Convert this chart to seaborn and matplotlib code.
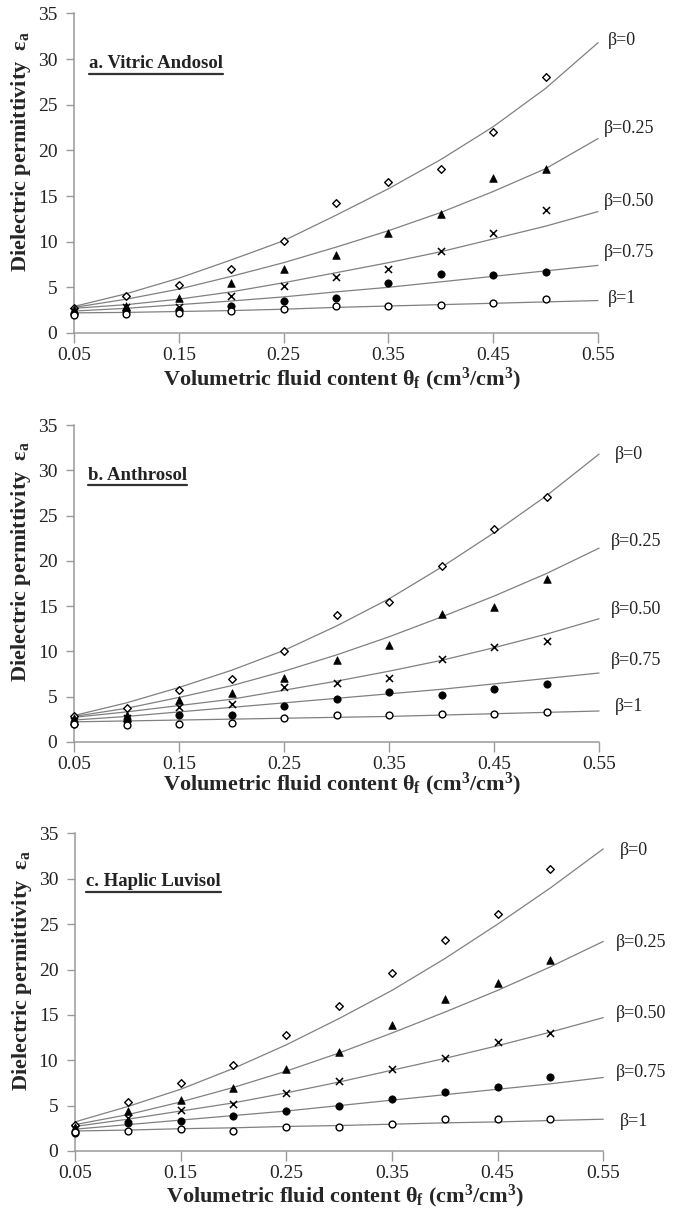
import numpy as np
import pandas as pd
import matplotlib
matplotlib.use("Agg")
import matplotlib.pyplot as plt
import seaborn as sns
from matplotlib.lines import Line2D

# measured points (theta = 0.05 ... 0.50)
theta_pts = [0.05, 0.10, 0.15, 0.20, 0.25, 0.30, 0.35, 0.40, 0.45, 0.50]
# fitted curves read at theta = 0.05 ... 0.55
theta_fit = [0.05, 0.10, 0.15, 0.20, 0.25, 0.30, 0.35, 0.40, 0.45, 0.50, 0.55]

beta_names = ["β=0", "β=0.25", "β=0.50", "β=0.75", "β=1"]

# a. Vitric Andosol
a_b0 = [2.7, 4.0, 5.2, 7.0, 10.1, 14.2, 16.5, 18.0, 22.0, 28.0]
a_b25 = [2.6, 3.0, 3.8, 5.5, 7.0, 8.5, 11.0, 13.0, 17.0, 18.0]
a_b50 = [2.4, 2.8, 2.8, 4.0, 5.1, 6.1, 7.0, 9.0, 11.0, 13.5]
a_b75 = [2.1, 2.4, 2.5, 3.0, 3.5, 3.8, 5.5, 6.5, 6.3, 6.7]
a_b1 = [2.0, 2.1, 2.2, 2.4, 2.6, 3.0, 3.0, 3.1, 3.3, 3.7]
a_fit0 = [2.9, 4.3, 6.0, 8.0, 10.1, 12.9, 15.8, 19.0, 22.6, 26.8, 31.8]
a_fit25 = [2.8, 3.7, 4.8, 6.2, 7.7, 9.4, 11.2, 13.2, 15.5, 18.0, 21.3]
a_fit50 = [2.7, 3.1, 3.7, 4.5, 5.5, 6.6, 7.7, 8.9, 10.3, 11.7, 13.3]
a_fit75 = [2.4, 2.7, 3.1, 3.5, 3.95, 4.5, 5.0, 5.6, 6.2, 6.8, 7.4]
a_fit1 = [2.2, 2.25, 2.35, 2.45, 2.6, 2.8, 2.95, 3.1, 3.25, 3.4, 3.55]

# b. Anthrosol
b_b0 = [2.9, 3.7, 5.7, 6.9, 10.0, 14.0, 15.5, 19.4, 23.5, 27.0]
b_b25 = [2.6, 2.95, 4.6, 5.4, 7.1, 9.0, 10.7, 14.1, 14.9, 18.0]
b_b50 = [2.3, 2.6, 3.8, 4.2, 6.0, 6.5, 7.0, 9.2, 10.5, 11.1]
b_b75 = [2.0, 2.3, 2.95, 2.95, 4.0, 4.7, 5.5, 5.2, 5.8, 6.4]
b_b1 = [2.0, 1.8, 2.0, 2.1, 2.6, 2.95, 3.0, 3.05, 3.1, 3.3]
b_fit0 = [2.9, 4.3, 6.0, 7.9, 10.1, 12.8, 15.8, 19.3, 23.1, 27.2, 31.8]
b_fit25 = [2.8, 3.7, 4.9, 6.2, 7.8, 9.6, 11.6, 13.8, 16.1, 18.6, 21.4]
b_fit50 = [2.7, 3.3, 4.0, 4.7, 5.7, 6.7, 7.8, 9.0, 10.4, 11.9, 13.6]
b_fit75 = [2.4, 2.8, 3.3, 3.8, 4.3, 4.8, 5.3, 5.8, 6.4, 7.0, 7.6]
b_fit1 = [2.2, 2.3, 2.4, 2.5, 2.6, 2.7, 2.8, 2.95, 3.1, 3.25, 3.4]

# c. Haplic Luvisol
c_b0 = [2.9, 5.4, 7.5, 9.5, 12.75, 15.95, 19.6, 23.3, 26.1, 31.1]
c_b25 = [2.6, 4.35, 5.6, 6.9, 9.0, 10.9, 13.85, 16.7, 18.5, 21.0]
c_b50 = [2.4, 3.6, 4.5, 5.2, 6.4, 7.7, 9.0, 10.3, 12.0, 13.0]
c_b75 = [2.0, 3.05, 3.35, 3.8, 4.35, 5.0, 5.75, 6.5, 7.0, 8.2]
c_b1 = [2.1, 2.15, 2.4, 2.2, 2.6, 2.6, 2.95, 3.5, 3.55, 3.55]
c_fit0 = [3.2, 4.9, 6.8, 9.1, 11.7, 14.6, 17.7, 21.2, 25.0, 29.0, 33.3]
c_fit25 = [2.9, 4.0, 5.4, 7.0, 8.8, 10.8, 13.0, 15.3, 17.7, 20.3, 23.1]
c_fit50 = [2.7, 3.5, 4.4, 5.3, 6.4, 7.6, 8.9, 10.2, 11.6, 13.1, 14.7]
c_fit75 = [2.4, 2.9, 3.4, 3.9, 4.4, 5.0, 5.6, 6.2, 6.8, 7.4, 8.1]
c_fit1 = [2.2, 2.3, 2.45, 2.55, 2.7, 2.8, 2.95, 3.1, 3.2, 3.35, 3.5]

panels = [
    ("a. Vitric Andosol", [a_b0, a_b25, a_b50, a_b75, a_b1],
     [a_fit0, a_fit25, a_fit50, a_fit75, a_fit1]),
    ("b. Anthrosol", [b_b0, b_b25, b_b50, b_b75, b_b1],
     [b_fit0, b_fit25, b_fit50, b_fit75, b_fit1]),
    ("c. Haplic Luvisol", [c_b0, c_b25, c_b50, c_b75, c_b1],
     [c_fit0, c_fit25, c_fit50, c_fit75, c_fit1]),
]

# layout / label placement (figure fractions and text positions)
axes_rects = [
    [0.1087, 0.7262, 0.7695, 0.2627],
    [0.1087, 0.3900, 0.7710, 0.2604],
    [0.1101, 0.0535, 0.7758, 0.2611],
]
title_pos = [(0.029, 0.842), (0.027, 0.842), (0.021, 0.848)]
xlabel_y = [-0.102, -0.093, -0.099]
label_x = [(0.5595, 0.5555), (0.5655, 0.5615), (0.5655, 0.5615)]
label_y = [
    [32.0, 22.4, 14.4, 8.8, 3.8],
    [31.7, 22.1, 14.6, 9.0, 3.9],
    [33.1, 22.95, 15.2, 8.6, 3.3],
]

sns.set_style("ticks")
plt.rcParams["font.family"] = ["Liberation Serif", "DejaVu Serif"]
plt.rcParams["mathtext.fontset"] = "custom"
plt.rcParams["mathtext.rm"] = "Liberation Serif"
plt.rcParams["mathtext.bf"] = "Liberation Serif:bold"
plt.rcParams["mathtext.it"] = "Liberation Serif:italic"

# marker styles for beta = 0, 0.25, 0.5, 0.75, 1
marker_styles = [
    dict(marker="D", s=15, facecolor="white", edgecolor="black", linewidth=1.0),
    dict(marker="^", s=30, facecolor="black", edgecolor="black", linewidth=0.5),
    dict(marker="x", s=26, color="black", linewidth=1.1),
    dict(marker="o", s=28, facecolor="black", edgecolor="black", linewidth=0.5),
    dict(marker="o", s=24, facecolor="white", edgecolor="black", linewidth=1.0),
]

fig = plt.figure(figsize=(6.81, 12.16), dpi=100)
spine_col = "#9a9a9a"
titles = []

for i, (name, series, fits) in enumerate(panels):
    ax = fig.add_axes(axes_rects[i])
    for k in range(5):
        sns.lineplot(x=theta_fit, y=fits[k], ax=ax, color="#808080",
                     linewidth=0.9, sort=False, clip_on=False)
    for k in range(5):
        sns.scatterplot(x=theta_pts, y=series[k], ax=ax, zorder=3,
                        clip_on=False, **marker_styles[k])
        lx = label_x[i][0] if k in (0, 4) else label_x[i][1]
        ax.text(lx, label_y[i][k], beta_names[k], fontsize=13,
                ha="left", va="center", color="#222222")

    ax.set_xlim(0.05, 0.55)
    ax.set_ylim(0, 35)
    ax.set_xticks(np.arange(0.05, 0.56, 0.1))
    ax.set_xticklabels(["0.05", "0.15", "0.25", "0.35", "0.45", "0.55"])
    ax.set_yticks(range(0, 36, 5))
    ax.tick_params(axis="both", labelsize=14, colors="#222222",
                   direction="out", width=1.0)
    ax.tick_params(axis="x", length=7, pad=3, color=spine_col)
    ax.tick_params(axis="y", length=6, pad=6, color=spine_col)
    sns.despine(ax=ax)
    for sp in ("left", "bottom"):
        ax.spines[sp].set_color(spine_col)
        ax.spines[sp].set_linewidth(1.1)

    ax.set_ylabel("Dielectric permittivity  ε$_\\mathbf{a}$",
                  fontsize=16, fontweight="bold")
    ax.yaxis.set_label_coords(-0.078, 0.568)
    ax.set_xlabel("Volumetric fluid content θ$_\\mathbf{f}$ "
                  "(cm$^\\mathbf{3}$/cm$^\\mathbf{3}$)",
                  fontsize=16, fontweight="bold")
    ax.xaxis.set_label_coords(0.511, xlabel_y[i])

    t = ax.text(title_pos[i][0], title_pos[i][1], name, transform=ax.transAxes,
                fontsize=13.5, fontweight="bold", ha="left", va="center",
                color="#222222")
    titles.append(t)

# underline the panel titles
fig.canvas.draw()
r = fig.canvas.get_renderer()
inv = fig.transFigure.inverted()
for t in titles:
    bb = t.get_window_extent(r)
    (x0, y0), (x1, _) = inv.transform([(bb.x0, bb.y0), (bb.x1, bb.y1)])
    fig.add_artist(Line2D([x0, x1], [y0 - 0.0012, y0 - 0.0012],
                          transform=fig.transFigure, color="#333333",
                          linewidth=1.6))

fig.savefig("out.png", dpi=100)
